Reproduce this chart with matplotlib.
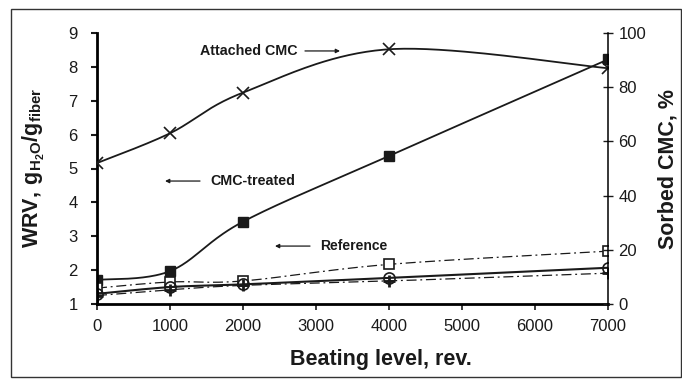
import matplotlib.pyplot as plt
import numpy as np
from matplotlib.patches import Rectangle

plt.rcParams['font.family'] = ['Liberation Sans', 'DejaVu Sans']
plt.rcParams['mathtext.fontset'] = 'custom'
plt.rcParams['mathtext.rm'] = 'Liberation Sans'
plt.rcParams['mathtext.bf'] = 'Liberation Sans:bold'

# data
beating = [0, 1000, 2000, 4000, 7000]
attached_cmc = [52, 63, 78, 94, 87]            # right axis, %
cmc_treated = [1.71, 1.97, 3.43, 5.37, 8.22]   # WRV
reference = [1.47, 1.65, 1.68, 2.17, 2.56]     # WRV, open squares
circles = [1.3, 1.5, 1.58, 1.77, 2.07]         # WRV
pluses = [1.25, 1.42, 1.55, 1.68, 1.91]        # WRV

xticks = [0, 1000, 2000, 3000, 4000, 5000, 6000, 7000]


def smooth(ax, x, y, n=40):
    # excel-like smoothed line, built in display space
    pts = ax.transData.transform(np.column_stack([x, y]))
    P = np.vstack([pts[0], pts, pts[-1]])
    t = np.linspace(0, 1, n)[:, None]
    segs = []
    for i in range(len(pts) - 1):
        p0, p1, p2, p3 = P[i], P[i + 1], P[i + 2], P[i + 3]
        c1 = p1 + (p2 - p0) / 6
        c2 = p2 - (p3 - p1) / 6
        segs.append((1 - t)**3 * p1 + 3 * (1 - t)**2 * t * c1
                    + 3 * (1 - t) * t**2 * c2 + t**3 * p2)
    c = ax.transData.inverted().transform(np.vstack(segs))
    return c[:, 0], c[:, 1]


W, H = 682, 379
fig = plt.figure(figsize=(W / 100, H / 100), dpi=100)
ax = fig.add_axes([97 / W, 1 - 304 / H, (608 - 97) / W, (304 - 33) / H])
ax2 = ax.twinx()

ax.set_xlim(0, 7000)
ax.set_ylim(1, 9)
ax2.set_ylim(0, 100)
ax.set_xticks(xticks)
ax.set_yticks(range(1, 10))
ax2.set_yticks(range(0, 101, 20))

ink = '#1a1a1a'
lw = 1.3

# attached CMC on right axis
sx, sy = smooth(ax2, beating, attached_cmc)
ax2.plot(sx, sy, color=ink, lw=lw)
ax2.plot(beating, attached_cmc, ls='none', marker='x', ms=8, mew=1.2, color=ink)

sx, sy = smooth(ax, beating, cmc_treated)
ax.plot(sx, sy, color=ink, lw=lw)
ax.plot(beating, cmc_treated, ls='none', marker='s', ms=7, color=ink)

sx, sy = smooth(ax, beating, reference)
ax.plot(sx, sy, color=ink, lw=0.9, dashes=(8, 3, 1.5, 3))
ax.plot(beating, reference, ls='none', marker='s', ms=6.5, mfc='white', mew=1.2, color=ink)

sx, sy = smooth(ax, beating, pluses)
ax.plot(sx, sy, color=ink, lw=0.9, dashes=(8, 3, 1.5, 3))
ax.plot(beating, pluses, ls='none', marker='+', ms=8.5, mew=2, color=ink)

sx, sy = smooth(ax, beating, circles)
ax.plot(sx, sy, color=ink, lw=1.5)
ax.plot(beating, circles, ls='none', marker='o', ms=8, mfc='none', mew=1.2, color=ink)

# spines and ticks
for a in (ax, ax2):
    a.spines['top'].set_visible(False)
ax.spines['right'].set_visible(False)
ax2.spines['left'].set_visible(False)
ax2.spines['bottom'].set_visible(False)
ax.spines['left'].set_linewidth(2)
ax.spines['bottom'].set_linewidth(2)
ax2.spines['right'].set_linewidth(1.1)
ax.tick_params(axis='y', direction='out', length=4, width=1.5, pad=10,
               labelsize=12, colors=ink)
ax.tick_params(axis='x', direction='out', length=4, width=1.2, pad=7,
               labelsize=12, colors=ink)
ax2.tick_params(axis='y', direction='inout', length=7, width=1, pad=4,
                labelsize=12, colors=ink)

ax.set_xlabel('Beating level, rev.', fontsize=15.5, fontweight='bold', color=ink)
ax.xaxis.set_label_coords((381 - 97) / 511, -(360 - 304) / 271)
ax.xaxis.label.set_va('center')
ax.set_ylabel(r'$\mathbf{WRV,\,g_{H_2O}/g_{fiber}}$', fontsize=15.5, color=ink)
ax.yaxis.set_label_coords(-(97 - 34) / 511, (304 - 168) / 271)
ax2.set_ylabel('Sorbed CMC, %', fontsize=15.5, fontweight='bold', color=ink,
               rotation=90)
ax2.yaxis.set_label_coords(1 + (668 - 608) / 511, (304 - 169) / 271)
ax2.yaxis.label.set_va('center')
ax.yaxis.label.set_va('center')

# curve labels with arrows
arrow = dict(arrowstyle='-|>', lw=0.9, color=ink, mutation_scale=6,
             shrinkA=0, shrinkB=0)
ax.text(2740, 8.47, 'Attached CMC', ha='right', va='center', fontsize=10.3,
        fontweight='bold', color=ink)
ax.annotate('', xy=(3329, 8.47), xytext=(2849, 8.47), arrowprops=arrow)
ax.text(1548, 4.63, 'CMC-treated', ha='left', va='center', fontsize=10.3,
        fontweight='bold', color=ink)
ax.annotate('', xy=(932, 4.63), xytext=(1411, 4.63), arrowprops=arrow)
ax.text(3055, 2.71, 'Reference', ha='left', va='center', fontsize=10,
        fontweight='bold', color=ink)
ax.annotate('', xy=(2438, 2.71), xytext=(2918, 2.71), arrowprops=arrow)

# outer frame
fig.patches.append(Rectangle((11 / W, 1 - 377 / H), (681 - 11) / W, (377 - 9) / H,
                             transform=fig.transFigure, fill=False,
                             edgecolor='#333333', lw=1))

fig.savefig('out.png', dpi=100)
